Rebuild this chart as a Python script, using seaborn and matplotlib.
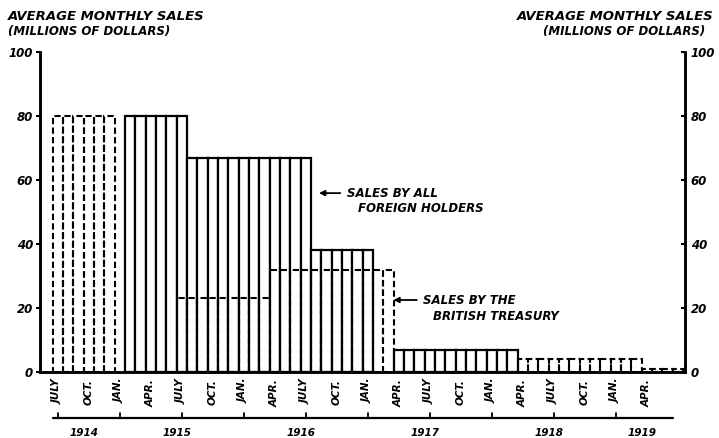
import pandas as pd
import seaborn as sns
import matplotlib.pyplot as plt
import matplotlib.transforms as mtransforms

# Estilo
sns.set_style("white")
plt.rcParams["font.family"] = ["DejaVu Sans"]
plt.rcParams["text.color"] = "black"
plt.rcParams["xtick.color"] = "black"
plt.rcParams["ytick.color"] = "black"

# Meses de julho 1914 a julho 1919 (61 meses)
month_names = ["JULY", "AUG.", "SEPT.", "OCT.", "NOV.", "DEC.",
               "JAN.", "FEB.", "MAR.", "APR.", "MAY", "JUNE"]
years = [1914, 1915, 1916, 1917, 1918, 1919]

# Vendas medias mensais (milhoes de dolares) - traco continuo
foreign_total = [None] * 7 + [80] * 6 + [67] * 12 + [38] * 6 + [None] * 2 + [7] * 12 + [None] * 16
# Vendas do Tesouro britanico / estimativas - traco tracejado
treasury = [80] * 6 + [None] * 6 + [23] * 9 + [32] * 12 + [None] * 12 + [4] * 12 + [1] * 4

y_ticks = [0, 20, 40, 60, 80, 100]

n = len(foreign_total)
keys = []
labels = []
for i in range(n):
    y = 1914 + (i + 6) // 12
    keys.append(f"{y}-{(i + 6) % 12 + 1:02d}")
    labels.append(month_names[i % 12])

df_f = pd.DataFrame({"month": keys, "sales": foreign_total}).dropna()
df_t = pd.DataFrame({"month": keys, "sales": treasury}).dropna()

fig = plt.figure(figsize=(7.19, 4.38), dpi=100)
ax = fig.add_axes([40 / 719, 66 / 438, 645 / 719, 320 / 438])

sns.barplot(data=df_f, x="month", y="sales", order=keys, ax=ax, color="white",
            edgecolor="black", linewidth=1.6, width=1.0, saturation=1, errorbar=None, zorder=2)
sns.barplot(data=df_t, x="month", y="sales", order=keys, ax=ax, color="black", fill=False,
            linewidth=1.5, width=1.0, errorbar=None, linestyle=(0, (3, 1.6)), zorder=3)
for p in ax.patches[len(df_f):]:
    p.set_edgecolor("black")
    p.set_facecolor("none")

ax.set_xlim(-1.74, 60.7)
ax.set_ylim(0, 100)
ax.set_xlabel("")
ax.set_ylabel("")

bold = dict(fontweight="bold", fontstyle="italic", color="black")

# eixo x: rotulos dos meses
pos = [i for i in range(n) if i % 3 == 0 and i <= 57]
ax.set_xticks(pos)
ax.set_xticklabels([labels[i] for i in pos], rotation=90, fontsize=7.5, **bold)
ax.tick_params(axis="x", length=3, width=1.2, pad=2)

# eixo y esquerdo e direito
ax.set_yticks(y_ticks)
ax.set_yticklabels([str(v) for v in y_ticks], fontsize=8.5, **bold)
ax.tick_params(axis="y", direction="out", length=3, width=1.5, pad=2)
ax2 = ax.twinx()
ax2.set_ylim(0, 100)
ax2.set_yticks(y_ticks)
ax2.set_yticklabels([str(v) for v in y_ticks], fontsize=8.5, **bold)
ax2.tick_params(axis="y", direction="in", length=3, width=1.5, pad=4)

for a in (ax, ax2):
    a.spines["top"].set_visible(False)
    for s in ("left", "right", "bottom"):
        a.spines[s].set_linewidth(1.8)
        a.spines[s].set_color("black")

# linha dos anos abaixo dos meses
trans = mtransforms.blended_transform_factory(ax.transData, ax.transAxes)
ax.plot([-0.5, 59.5], [-0.144, -0.144], color="black", lw=1.6, transform=trans, clip_on=False)
for i in range(n):
    if i % 6 == 0 and i <= 54:
        ax.plot([i, i], [-0.144, -0.128], color="black", lw=1.3, transform=trans, clip_on=False)
for y in years:
    start = max(-0.5, (y - 1914) * 12 - 6 - 0.5)
    end = min(59.5, (y - 1914) * 12 + 6 - 0.5)
    ax.text((start + end) / 2, -0.19, str(y), transform=trans, ha="center", va="center",
            fontsize=7.5, **bold)

# titulos dos eixos
for xx, ha, dx in ((8 / 719, "left", 0), (713 / 719, "right", -8 / 719)):
    fig.text(xx, 1 - 17 / 438, "AVERAGE MONTHLY SALES", ha=ha, va="center", fontsize=9.5, **bold)
    fig.text(xx + dx, 1 - 31 / 438, "(MILLIONS OF DOLLARS)", ha=ha, va="center", fontsize=8.5, **bold)

# anotacoes
arrow = dict(arrowstyle="-|>", color="black", lw=1.3, mutation_scale=8)
ax.annotate("", xy=(25.0, 55.9), xytext=(27.6, 55.9), arrowprops=arrow)
ax.text(28.0, 55.9, "SALES BY ALL", ha="left", va="center", fontsize=8.5, **bold)
ax.text(29.0, 51.2, "FOREIGN HOLDERS", ha="left", va="center", fontsize=8.5, **bold)
ax.annotate("", xy=(32.2, 22.5), xytext=(35.0, 22.5), arrowprops=arrow)
ax.text(35.3, 22.5, "SALES BY THE", ha="left", va="center", fontsize=8.5, **bold)
ax.text(36.3, 17.2, "BRITISH TREASURY", ha="left", va="center", fontsize=8.5, **bold)

plt.savefig("out.png", dpi=100)
